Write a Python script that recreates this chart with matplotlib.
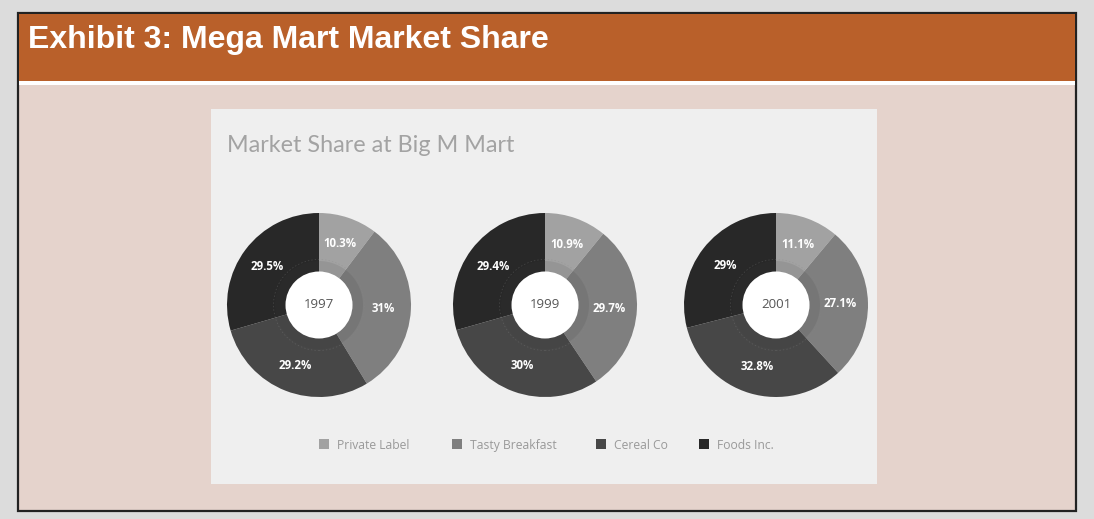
import matplotlib.pyplot as plt
from matplotlib.patches import Rectangle, Circle, Wedge

# data
years = ["1997", "1999", "2001"]
companies = ["Private Label", "Tasty Breakfast", "Cereal Co", "Foods Inc."]
share_1997 = [10.3, 31, 29.2, 29.5]
share_1999 = [10.9, 29.7, 30, 29.4]
share_2001 = [11.1, 27.1, 32.8, 29]
shares = [share_1997, share_1999, share_2001]

colors = ["#a2a2a2", "#7f7f7f", "#474747", "#282828"]

W, H = 1094, 519


def Y(y):
    # pixel row -> data y (y axis points up)
    return H - y


fig = plt.figure(figsize=(W / 100, H / 100), dpi=100)
fig.patch.set_facecolor("#dcdcdc")
ax = fig.add_axes([0, 0, 1, 1])
ax.set_axis_off()

# frame, header, panel
ax.add_patch(Rectangle((18, Y(511)), 1058, 498, facecolor="#e5d3cc",
                       edgecolor="#222222", lw=1.6, zorder=0))
ax.add_patch(Rectangle((19, Y(81)), 1056, 67, facecolor="#b9602a",
                       edgecolor="none", zorder=1))
ax.add_patch(Rectangle((19, Y(85)), 1056, 4, facecolor="white",
                       edgecolor="none", zorder=1))
ax.text(28, Y(40), "Exhibit 3: Mega Mart Market Share", color="white",
        fontsize=23, fontweight="bold", family="Liberation Sans",
        va="center", ha="left", zorder=2)

# chart card
ax.add_patch(Rectangle((211, Y(484)), 666, 375, facecolor="#efefef",
                       edgecolor="none", zorder=1))
ax.text(227, Y(145), "Market Share at Big M Mart", color="#a3a3a3",
        fontsize=16.8, family="Lato", fontweight="normal",
        va="center", ha="left", zorder=2)

centers_x = [319, 545, 776]
cy = 305
r_out, r_in, r_ring = 92, 33.5, 44

for cx, year, vals in zip(centers_x, years, shares):
    wedges, _, autotexts = ax.pie(
        vals, colors=colors, startangle=90, counterclock=False,
        radius=r_out, center=(cx, Y(cy)), frame=True,
        autopct=lambda p: f"{p:.1f}%".replace(".0%", "%"),
        pctdistance=0.70,
        wedgeprops=dict(linewidth=0),
        textprops=dict(color="white", fontsize=8.3, fontweight="bold",
                       family="Open Sans"))
    for w in wedges:
        w.set_zorder(3)
    for t in autotexts:
        t.set_zorder(6)
    ax.add_patch(Wedge((cx, Y(cy)), r_ring, 0, 360, width=r_ring - r_in,
                       facecolor="#3a3a3a", alpha=0.12, lw=0, zorder=4))
    ax.add_patch(Circle((cx, Y(cy)), r_ring + 1.5, fill=False,
                        edgecolor="#888888", lw=0.5, ls=(0, (2, 3)),
                        alpha=0.35, zorder=4))
    ax.add_patch(Circle((cx, Y(cy)), r_in, facecolor="white",
                        edgecolor="none", zorder=5))
    ax.text(cx, Y(cy), year, color="#555555", fontsize=9.5,
            family="Open Sans", ha="center", va="center", zorder=6)

# legend
legend_sq_x = [319, 452, 596, 699]
for x, name, c in zip(legend_sq_x, companies, colors):
    ax.add_patch(Rectangle((x, Y(449)), 10, 10, facecolor=c,
                           edgecolor="none", zorder=3))
    ax.text(x + 18, Y(444), name, color="#999999", fontsize=8.7,
            family="Open Sans", ha="left", va="center_baseline", zorder=3)

ax.set_xlim(0, W)
ax.set_ylim(0, H)
ax.set_aspect("auto")

fig.savefig("out.png", dpi=100, facecolor=fig.get_facecolor())
